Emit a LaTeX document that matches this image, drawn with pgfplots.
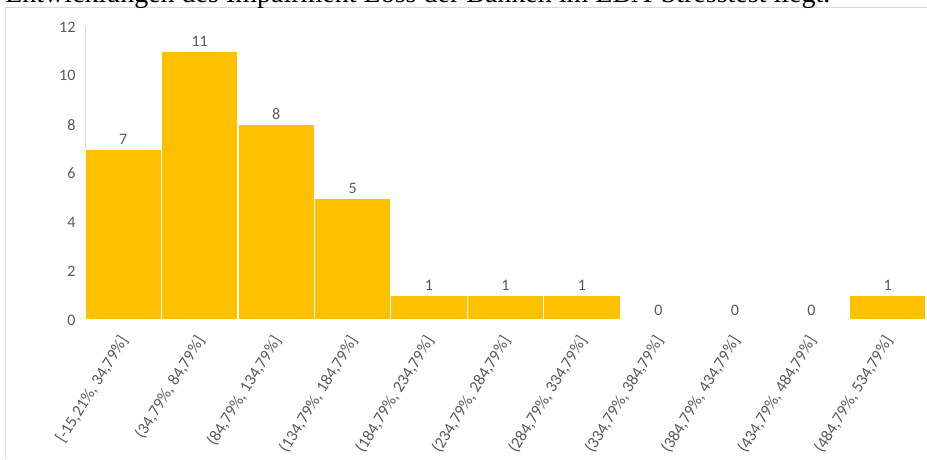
\documentclass[border=0pt]{standalone}
\usepackage{pgfplots}
\pgfplotsset{compat=1.18}
\usepackage{fontspec}
\setmainfont{Carlito}
\newfontfamily\titlefont{Liberation Serif}
\definecolor{barc}{HTML}{FFC000}
\definecolor{txt}{HTML}{595959}
\definecolor{gridc}{HTML}{D9D9D9}
\begin{document}
\begin{tikzpicture}[x=1pt,y=1pt]
\useasboundingbox (0,0) rectangle (927,459);
\clip (0,0) rectangle (927,459);
\draw[gridc, line width=1pt] (5,0) -- (5,451.5) -- (927,451.5);
\node[anchor=base west, inner sep=0, font=\titlefont\fontsize{28}{30}\selectfont] at (5,456.5) {Entwicklungen des Impairment Loss der Banken im EBA-Stresstest liegt.};
\begin{axis}[
  at={(85pt,139pt)}, anchor=south west,
  scale only axis, width=841pt, height=293pt,
  xmin=0, xmax=11, ymin=0, ymax=12,
  /pgf/number format/assume math mode=true,
  axis x line=bottom, axis y line=left,
  axis line style={draw=gridc, -, line width=1pt},
  major tick length=0pt,
  ytick={0,2,4,6,8,10,12},
  yticklabel style={font=\fontsize{16}{19}\selectfont, text=txt, xshift=-6pt},
  xtick={0.5,1.5,2.5,3.5,4.5,5.5,6.5,7.5,8.5,9.5,10.5},
  xticklabels={{{[}-15,21\%, 34,79\%]},{(34,79\%, 84,79\%]},{(84,79\%, 134,79\%]},{(134,79\%, 184,79\%]},{(184,79\%, 234,79\%]},{(234,79\%, 284,79\%]},{(284,79\%, 334,79\%]},{(334,79\%, 384,79\%]},{(384,79\%, 434,79\%]},{(434,79\%, 484,79\%]},{(484,79\%, 534,79\%]}},
  xticklabel style={font=\fontsize{16.5}{19}\selectfont, text=txt, inner sep=0pt, xshift=-5pt, yshift=-14pt, rotate=58, anchor=north east},
  clip=false,
  nodes near coords,
  every node near coord/.append style={font=\fontsize{16}{19}\selectfont, text=txt, anchor=south, inner sep=4pt},
]
\addplot[ybar, bar width=1, fill=barc, draw=white, line width=1.2pt] coordinates {
  (0.5,7) (1.5,11) (2.5,8) (3.5,5) (4.5,1) (5.5,1) (6.5,1) (7.5,0) (8.5,0) (9.5,0) (10.5,1)
};
\end{axis}
\end{tikzpicture}
\end{document}
